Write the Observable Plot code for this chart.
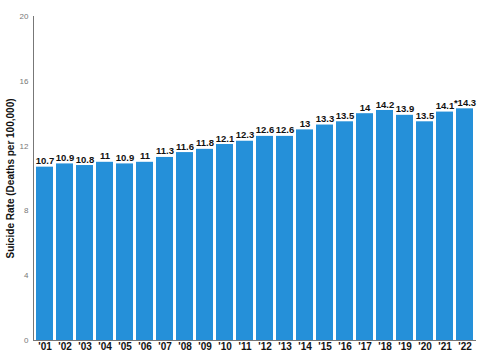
<!DOCTYPE html>
<html><head><meta charset="utf-8">
<script src="https://cdn.jsdelivr.net/npm/d3@7"></script>
<script src="https://cdn.jsdelivr.net/npm/@observablehq/plot@0.6"></script>
<style>body{margin:0;background:#fff;} svg{font-family:"Liberation Sans",Arial,sans-serif;}</style>
</head><body><div id="chart"></div>
<script>
const years = ["'01","'02","'03","'04","'05","'06","'07","'08","'09","'10","'11","'12","'13","'14","'15","'16","'17","'18","'19","'20","'21","'22"];
const rates = [10.7,10.9,10.8,11,10.9,11,11.3,11.6,11.8,12.1,12.3,12.6,12.6,13,13.3,13.5,14,14.2,13.9,13.5,14.1,14.3];
const labels = ["10.7","10.9","10.8","11","10.9","11","11.3","11.6","11.8","12.1","12.3","12.6","12.6","13","13.3","13.5","14","14.2","13.9","13.5","14.1","*14.3"];
const yTicks = [0,4,8,12,16,20];
const data = years.map((y,i)=>({year:y, rate:rates[i], label:labels[i]}));
const chart = Plot.plot({
  width:480, height:352,
  marginLeft:33, marginRight:4, marginTop:16, marginBottom:12,
  style:{fontFamily:"Liberation Sans, Arial, sans-serif", background:"#fff"},
  x:{domain:years, paddingInner:0.15, paddingOuter:0.05},
  y:{domain:[0,20]},
  marks:[
    Plot.barY(data,{x:"year", y:"rate", fill:"#2590d9"}),
    Plot.frame({anchor:"left", stroke:"#777"}),
    Plot.ruleY([0],{stroke:"#777"}),
    Plot.axisY({ticks:yTicks, tickSize:0, tickPadding:5, fontSize:8, fill:"#777", label:null}),
    Plot.axisX({tickSize:0, tickPadding:2, fontSize:10, fontWeight:"bold", fill:"#111", label:null}),
    Plot.text(data,{x:"year", y:"rate", text:"label", dy:-6, fontSize:9.5, fontWeight:"bold", fill:"#111"}),
    Plot.text(["Suicide Rate (Deaths per 100,000)"],{frameAnchor:"left", textAnchor:"middle", dx:-23, rotate:-90, fontSize:10, fontWeight:"bold", fill:"#111"})
  ]
});
document.getElementById("chart").append(chart);
</script></body></html>
